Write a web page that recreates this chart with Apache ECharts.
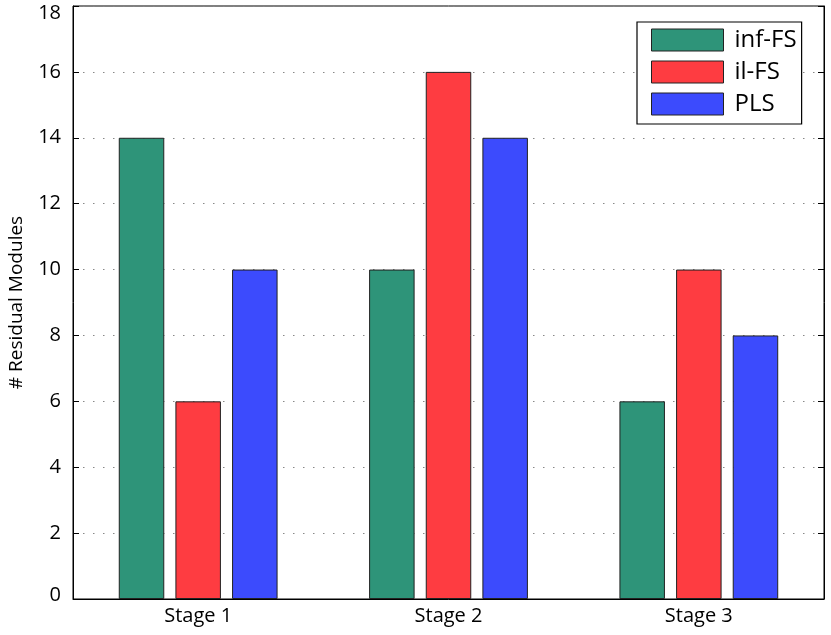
<!DOCTYPE html>
<html><head><meta charset="utf-8">
<script src="https://cdn.jsdelivr.net/npm/echarts@6/dist/echarts.min.js"></script>
<style>html,body{margin:0;padding:0;background:#fff}#c{width:831px;height:635px}</style>
</head><body><div id="c"></div>
<script>
const categories = ['Stage 1', 'Stage 2', 'Stage 3'];
const infFS = [14, 10, 6];
const ilFS = [6, 16, 10];
const PLS = [10, 14, 8];
const seriesNames = ['inf-FS', 'il-FS', 'PLS'];
const colors = ['#2e9479', '#fe3c41', '#3c4bfd'];
const yTicks = {min: 0, max: 18, interval: 2};
const FONT = '"Open Sans", sans-serif';

const chart = echarts.init(document.getElementById('c'));
const mk = (name, data, color) => ({
  name, type: 'bar', data, barWidth: 45.5, barGap: '24.5%',
  itemStyle: {color, borderColor: '#222', borderWidth: 1},
  emphasis: {disabled: true}
});
chart.setOption({
  animation: false,
  grid: {left: 73, right: 7, top: 6, bottom: 36, show: true, borderColor: '#000', borderWidth: 1,
         containLabel: false, outerBoundsMode: 'none'},
  legend: {
    orient: 'vertical', left: 637, top: 22,
    icon: 'rect',
    itemWidth: 72, itemHeight: 22, itemGap: 8,
    padding: [6, 5, 8, 14],
    borderColor: '#000', borderWidth: 1.2, backgroundColor: '#fff',
    textStyle: {fontFamily: FONT, fontSize: 24, color: '#000', lineHeight: 22, padding: [0, 0, 0, 6]},
    itemStyle: {borderColor: '#222', borderWidth: 1},
    data: seriesNames
  },
  xAxis: {
    type: 'category', data: categories,
    axisLine: {lineStyle: {color: '#000'}},
    axisTick: {show: false},
    axisLabel: {fontFamily: FONT, fontSize: 20, color: '#000', margin: 7}
  },
  yAxis: [{
    type: 'value', min: yTicks.min, max: yTicks.max, interval: yTicks.interval,
    name: '# Residual Modules', nameLocation: 'middle', nameGap: 47, nameRotate: 90,
    nameTextStyle: {fontFamily: FONT, fontSize: 19, color: '#000'},
    axisLine: {show: true, lineStyle: {color: '#000'}},
    axisTick: {show: true, inside: true, length: 6, lineStyle: {color: '#000'}},
    axisLabel: {
      fontFamily: FONT, fontSize: 20, color: '#000', margin: 12,
      formatter: v => v === yTicks.max ? '{t|' + v + '}' : (v === yTicks.min ? '{b|' + v + '}' : String(v)),
      rich: {
        t: {fontFamily: FONT, fontSize: 20, color: '#000', padding: [14, 0, 0, 0]},
        b: {fontFamily: FONT, fontSize: 20, color: '#000', padding: [0, 0, 8, 0]}
      }
    },
    splitLine: {show: true, lineStyle: {color: '#888', type: [1.5, 8.5], width: 1}}
  }, {
    type: 'value', min: yTicks.min, max: yTicks.max, interval: yTicks.interval, position: 'right',
    axisLine: {show: true, lineStyle: {color: '#000'}},
    axisTick: {show: true, inside: true, length: 6, lineStyle: {color: '#000'}},
    axisLabel: {show: false}, splitLine: {show: false}
  }],
  series: [mk(seriesNames[0], infFS, colors[0]), mk(seriesNames[1], ilFS, colors[1]), mk(seriesNames[2], PLS, colors[2])]
});
</script></body></html>
